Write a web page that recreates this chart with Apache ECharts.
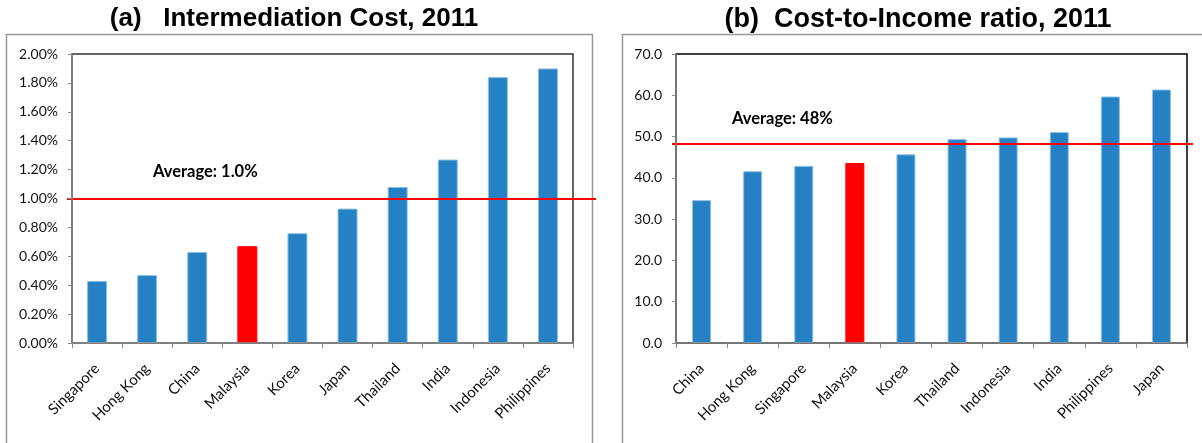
<!DOCTYPE html>
<html>
<head>
<meta charset="utf-8">
<script src="https://cdn.jsdelivr.net/npm/echarts@6/dist/echarts.min.js"></script>
<style>
    html, body { margin: 0; padding: 0; background: #fff; }
    #chart { width: 1202px; height: 443px; }
</style>
</head>
<body>
<div id="chart"></div>
<script>
    // (a) intermediation cost, %
    var costCountries = ['Singapore', 'Hong Kong', 'China', 'Malaysia', 'Korea', 'Japan', 'Thailand', 'India', 'Indonesia', 'Philippines'];
    var costValues = [0.43, 0.47, 0.63, 0.67, 0.76, 0.93, 1.08, 1.27, 1.84, 1.90];
    var costAverage = 1.0;

    // (b) cost-to-income ratio
    var ratioCountries = ['China', 'Hong Kong', 'Singapore', 'Malaysia', 'Korea', 'Thailand', 'Indonesia', 'India', 'Philippines', 'Japan'];
    var ratioValues = [34.6, 41.6, 42.9, 43.6, 45.7, 49.4, 49.8, 51.1, 59.7, 61.4];
    var ratioAverage = 48.2;

    var highlight = 'Malaysia';

    var blue = '#2581C4';
    var red = '#FF0000';
    var labelFont = 'Lato, "Open Sans", sans-serif';
    var titleFont = '"Liberation Sans", Arial, sans-serif';

    function barData(names, values) {
        return values.map(function (v, i) {
            var hot = names[i] === highlight;
            return {
                value: v,
                itemStyle: {
                    color: hot ? red : blue,
                    borderColor: hot ? red : '#8CC0E6',
                    borderWidth: 1
                }
            };
        });
    }

    function catAxis(idx, names) {
        return {
            type: 'category',
            gridIndex: idx,
            data: names,
            boundaryGap: true,
            axisLine: { lineStyle: { color: '#888', width: 1.5 } },
            axisTick: { show: true, length: 5, inside: false, lineStyle: { color: '#888' } },
            axisLabel: {
                rotate: 45, interval: 0, fontSize: 15, color: '#111', fontFamily: labelFont,
                margin: 23
            },
            z: 5
        };
    }

    function valAxis(idx, max, step, fmt) {
        return {
            type: 'value',
            gridIndex: idx,
            min: 0,
            max: max,
            interval: step,
            splitLine: { show: false },
            axisLine: { show: true, lineStyle: { color: '#888', width: 1.5 } },
            axisTick: { show: true, length: 4, lineStyle: { color: '#888' } },
            axisLabel: { fontSize: 14, color: '#111', fontFamily: labelFont, margin: 14, formatter: fmt },
            z: 5
        };
    }

    function hiddenX(idx) {
        return { type: 'value', gridIndex: idx, min: 0, max: 1, show: false };
    }
    function hiddenY(idx, max) {
        return { type: 'value', gridIndex: idx, min: 0, max: max, show: false };
    }

    var chart = echarts.init(document.getElementById('chart'));

    var option = {
        animation: false,
        backgroundColor: '#fff',
        title: [
            {
                text: '(a)   Intermediation Cost, 2011',
                left: 289, top: 1, textAlign: 'center',
                textStyle: { fontFamily: titleFont, fontWeight: 'bold', fontSize: 26, color: '#000' }
            },
            {
                text: '(b)  Cost-to-Income ratio, 2011',
                left: 913, top: 1, textAlign: 'center',
                textStyle: { fontFamily: titleFont, fontWeight: 'bold', fontSize: 27, color: '#000' }
            }
        ],
        graphic: [
            // chart frames
            { type: 'rect', shape: { x: 6.5, y: 34.5, width: 586, height: 420 }, style: { fill: 'none', stroke: '#999', lineWidth: 1.5 }, z: -1 },
            { type: 'rect', shape: { x: 622.5, y: 34.5, width: 590, height: 420 }, style: { fill: 'none', stroke: '#999', lineWidth: 1.5 }, z: -1 },
            // average annotations
            { type: 'text', x: 153, y: 163, style: { text: 'Average: 1.0%', font: 'bold 16.5px ' + labelFont, fill: '#000' }, z: 10 },
            { type: 'text', x: 732, y: 110, style: { text: 'Average: 48%', font: 'bold 16.5px ' + labelFont, fill: '#000' }, z: 10 }
        ],
        grid: [
            { left: 72, right: 629, top: 54, bottom: 100, show: true, borderColor: '#333', borderWidth: 1.5, backgroundColor: 'transparent' },
            { left: 676, right: 15, top: 54, bottom: 100, show: true, borderColor: '#000', borderWidth: 1.5, backgroundColor: 'transparent' },
            // wider helper grids for the average lines, which run past the plot area
            { left: 67, right: 606, top: 54, bottom: 100 },
            { left: 672, right: 9, top: 54, bottom: 100 }
        ],
        xAxis: [
            catAxis(0, costCountries),
            catAxis(1, ratioCountries),
            hiddenX(2),
            hiddenX(3)
        ],
        yAxis: [
            valAxis(0, 2, 0.2, function (v) { return v.toFixed(2) + '%'; }),
            valAxis(1, 70, 10, function (v) { return v.toFixed(1); }),
            hiddenY(2, 2),
            hiddenY(3, 70)
        ],
        series: [
            {
                type: 'bar', xAxisIndex: 0, yAxisIndex: 0,
                data: barData(costCountries, costValues),
                barWidth: 20
            },
            {
                type: 'bar', xAxisIndex: 1, yAxisIndex: 1,
                data: barData(ratioCountries, ratioValues),
                barWidth: 19
            },
            {
                type: 'line', xAxisIndex: 2, yAxisIndex: 2, data: [], z: 8,
                markLine: {
                    silent: true, symbol: 'none', label: { show: false },
                    lineStyle: { color: red, width: 2, type: 'solid' },
                    data: [{ yAxis: costAverage }]
                }
            },
            {
                type: 'line', xAxisIndex: 3, yAxisIndex: 3, data: [], z: 8,
                markLine: {
                    silent: true, symbol: 'none', label: { show: false },
                    lineStyle: { color: red, width: 2, type: 'solid' },
                    data: [{ yAxis: ratioAverage }]
                }
            }
        ]
    };

    chart.setOption(option);
    window.onresize = function () {
        chart.resize();
    };
</script>
</body>
</html>
